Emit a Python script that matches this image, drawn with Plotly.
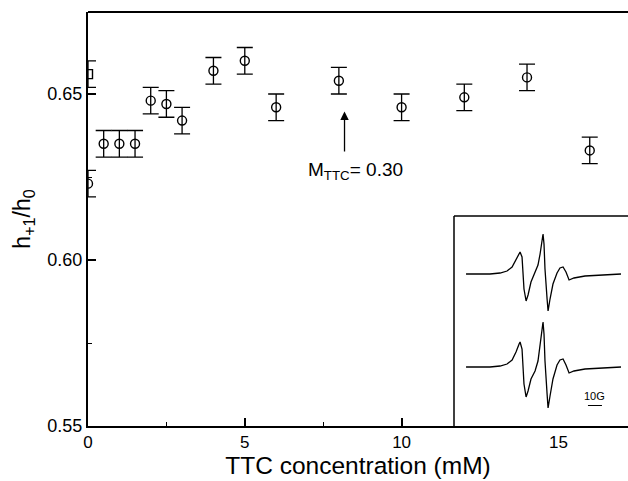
import plotly.graph_objects as go

# ---- data ----
conc = [0, 0.5, 1, 1.5, 2, 2.5, 3, 4, 5, 6, 8, 10, 12, 14, 16]
ratio = [0.623, 0.635, 0.635, 0.635, 0.648, 0.647, 0.642, 0.657, 0.660, 0.646, 0.654, 0.646, 0.649, 0.655, 0.633]
ratio_err = [0.004] * len(conc)

conc_sq = [0]
ratio_sq = [0.656]
ratio_sq_err = [0.004]

# inset ESR spectra (field in G relative to centre line, amplitude arbitrary)
field = [-55, -37.9, -30.7, -25.7, -22.1, -19.3, -17.1, -16.4, -15, -14.3, -13.6, -12.1, -10.7,
         -8.6, -5.7, -3.6, -2.1, -0.7, 0, 0.7, 1.4, 2.9, 3.6, 5, 7.1, 10, 12.1, 14.3, 16.4,
         18.6, 22.1, 30, 40.7, 55.7]
spec_top = [0, 0, 0.1, 0.3, 0.7, 1.4, 2.1, 2.2, 1.7, 0.5, -1.5, -2.7, -2.1,
            -0.8, 0.1, 0.9, 2.0, 3.5, 4.0, 3.0, 0.5, -2.5, -3.7, -2.5, -1.0, 0.1, 0.6, 0.7, 0.2,
            -0.6, -0.4, -0.2, -0.1, 0]
spec_bot = [0, 0, 0.1, 0.3, 0.7, 1.5, 2.3, 2.5, 1.8, 0.3, -1.7, -3.0, -2.4,
            -1.2, -0.4, 0.6, 2.3, 4.0, 4.5, 3.3, 0.6, -2.7, -4.1, -2.9, -1.2, 0.2, 0.7, 0.8, 0.2,
            -0.6, -0.4, -0.2, -0.1, 0]
offset_top = 15.2
offset_bot = 5.9

x_ticks = [0, 5, 10, 15]
y_ticks = [0.55, 0.60, 0.65]

FONT = "Arial, Liberation Sans, sans-serif"

fig = go.Figure()

fig.add_trace(go.Scatter(
    x=conc, y=ratio, mode="markers",
    marker=dict(symbol="circle-open", size=9, color="black", line=dict(width=1.4, color="black")),
    error_y=dict(type="data", array=ratio_err, visible=True, color="black", thickness=1.3, width=8),
    showlegend=False, cliponaxis=True,
))
fig.add_trace(go.Scatter(
    x=conc_sq, y=ratio_sq, mode="markers",
    marker=dict(symbol="square-open", size=9, color="black", line=dict(width=1.4, color="black")),
    error_y=dict(type="data", array=ratio_sq_err, visible=True, color="black", thickness=1.3, width=8),
    showlegend=False, cliponaxis=True,
))

# inset spectra
fig.add_trace(go.Scatter(
    x=field, y=[v + offset_top for v in spec_top], mode="lines",
    line=dict(color="black", width=1.3), xaxis="x2", yaxis="y2", showlegend=False,
))
fig.add_trace(go.Scatter(
    x=field, y=[v + offset_bot for v in spec_bot], mode="lines",
    line=dict(color="black", width=1.3), xaxis="x2", yaxis="y2", showlegend=False,
))

ins_x0 = (454 - 88) / 540
ins_y1 = (426 - 216) / 414

fig.update_layout(
    width=628, height=481,
    margin=dict(l=88, r=0, t=12, b=55),
    paper_bgcolor="white", plot_bgcolor="white",
    font=dict(family=FONT, color="black", size=17),
    xaxis=dict(
        range=[0, 17.22], tickvals=x_ticks, ticks="inside", ticklen=8, tickwidth=1.5,
        tickcolor="black", showline=True, linecolor="black", linewidth=2,
        showgrid=False, zeroline=False, tickfont=dict(size=17),
        minor=dict(ticks="inside", ticklen=4, tickwidth=1.3, dtick=2.5, tickcolor="black"),
        title=dict(text="TTC concentration (mM)", font=dict(size=24.5), standoff=4),
    ),
    yaxis=dict(
        range=[0.55, 0.6747], tickvals=y_ticks, tickformat=".2f", ticks="inside", ticklen=8,
        tickwidth=1.5, tickcolor="black", showline=True, linecolor="black", linewidth=2,
        showgrid=False, zeroline=False, tickfont=dict(size=18),
        minor=dict(ticks="inside", ticklen=4, tickwidth=1.3, dtick=0.025, tickcolor="black"),
        title=dict(text="h<sub>+1</sub>/h<sub>0</sub>", font=dict(size=23), standoff=10),
    ),
    xaxis2=dict(domain=[ins_x0, 1], range=[-63.6, 60.7], anchor="y2",
                showline=False, showgrid=False, zeroline=False, showticklabels=False, ticks=""),
    yaxis2=dict(domain=[0, ins_y1], range=[0, 21.0], anchor="x2",
                showline=False, showgrid=False, zeroline=False, showticklabels=False, ticks=""),
)

# top frame line
fig.add_shape(type="line", xref="paper", yref="paper", x0=0, x1=1, y0=1, y1=1,
              line=dict(color="black", width=2))
# inset box (left and top edges visible)
fig.add_shape(type="line", xref="paper", yref="paper", x0=ins_x0, x1=ins_x0, y0=0, y1=ins_y1,
              line=dict(color="black", width=1.5))
fig.add_shape(type="line", xref="paper", yref="paper", x0=ins_x0, x1=1, y0=ins_y1, y1=ins_y1,
              line=dict(color="black", width=1.5))
# scale bar in inset
fig.add_shape(type="line", xref="x2", yref="y2", x0=32.1, x1=42.1, y0=2.05, y1=2.05,
              line=dict(color="black", width=1))
fig.add_annotation(x=37.1, y=2.2, xref="x2", yref="y2", text="10G", showarrow=False,
                   yanchor="bottom", font=dict(size=11, family=FONT))

# arrow + label
fig.add_annotation(x=8.18, y=0.6447, ax=8.18, ay=0.6322, xref="x", yref="y", axref="x", ayref="y",
                   showarrow=True, arrowhead=2, arrowsize=1.3, arrowwidth=1.3, arrowcolor="black", text="")
fig.add_annotation(x=6.95, y=0.6269, xref="x", yref="y", text="M<sub>TTC</sub>= 0.30",
                   showarrow=False, xanchor="left", yanchor="middle", font=dict(size=19, family=FONT))

fig.write_html("out.html")
